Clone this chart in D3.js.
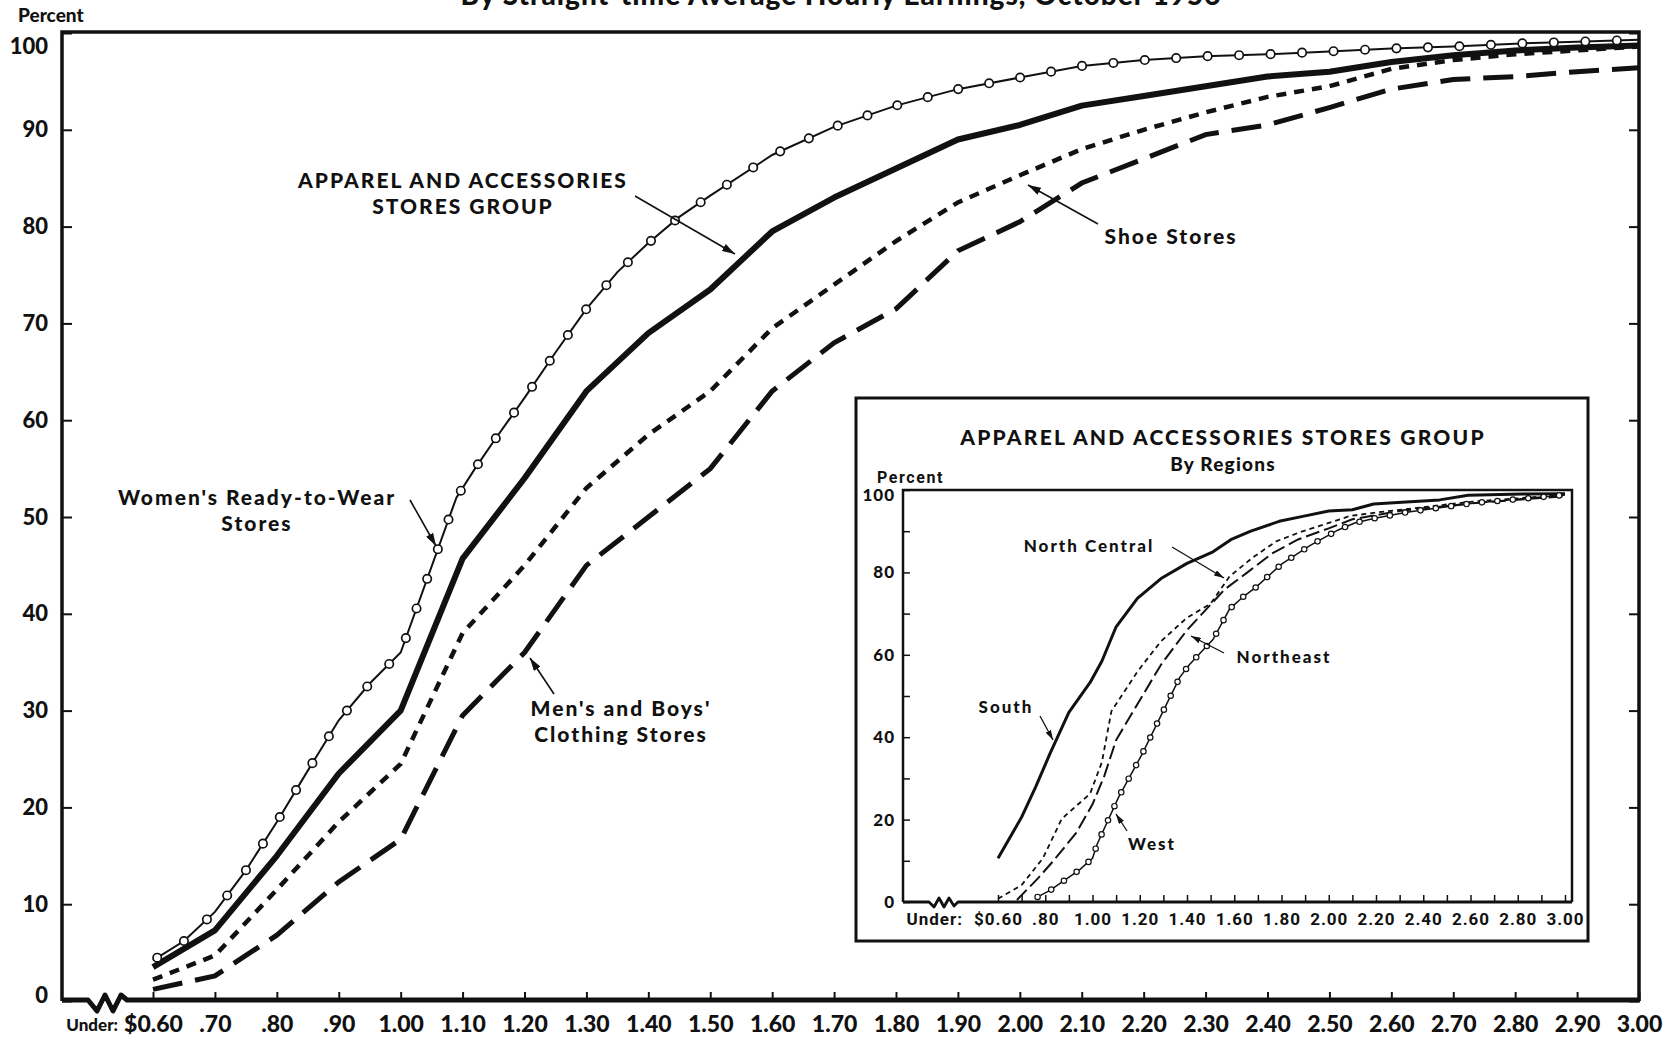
<!DOCTYPE html>
<html>
<head>
<meta charset="utf-8">
<script src="https://cdn.jsdelivr.net/npm/d3@7"></script>
<style>
  body { margin: 0; background: #fff; }
  svg text { font-family: Lato, "Open Sans", sans-serif; font-weight: 900; fill: #111; }
  svg .narrow text, svg text.narrow { font-family: "Liberation Sans Narrow", Roboto, sans-serif; font-weight: bold; }
</style>
</head>
<body>
<script>
// ---- main chart: cumulative percent of employees, by hourly earnings ----
const wages = [0.60, 0.70, 0.80, 0.90, 1.00, 1.10, 1.20, 1.30, 1.40, 1.50, 1.60, 1.70, 1.80,
  1.90, 2.00, 2.10, 2.20, 2.30, 2.40, 2.50, 2.60, 2.70, 2.80, 2.90, 3.00];
const groupPct = [3.5, 7.3, 15, 23.5, 30, 45.7, 54, 63, 69, 73.5, 79.5, 83, 86, 89, 90.5,
  92.5, 93.5, 94.5, 95.5, 96, 97, 97.7, 98.2, 98.5, 98.7];
const shoePct = [2.2, 4.7, 11.5, 18.5, 24.5, 38, 45, 53, 58.5, 63, 69.5, 74, 78.5, 82.5, 85.3,
  88, 90, 91.8, 93.4, 94.5, 96.3, 97.2, 97.8, 98.2, 98.6];
const mensPct = [1.2, 2.6, 6.8, 12.3, 16.7, 29.5, 36, 45, 50, 55, 63, 68, 71.5, 77.5, 80.5,
  84.5, 87, 89.5, 90.5, 92.3, 94.2, 95.2, 95.5, 96, 96.4];
const womenWages = [0.60, 0.65, 0.70, 0.75, 0.80, 0.85, 0.90, 0.95, 1.00, 1.09, 1.12, 1.15,
  1.20, 1.25, 1.30, 1.35, 1.40, 1.45, 1.50, 1.60, 1.70, 1.80, 1.90, 2.00, 2.10, 2.20, 2.30,
  2.40, 2.50, 2.60, 2.70, 2.80, 2.90, 3.00];
const womenPct = [4.2, 6.2, 9.2, 13.5, 18.5, 23.8, 29, 32.8, 36, 52, 55, 57.8, 62.3, 67, 71.5,
  75.3, 78.3, 81, 83.2, 87.4, 90.3, 92.5, 94.2, 95.4, 96.6, 97.2, 97.6, 97.8, 98.1, 98.4,
  98.6, 98.9, 99.1, 99.3];
const xTickLabels = ["$0.60", ".70", ".80", ".90", "1.00", "1.10", "1.20", "1.30", "1.40",
  "1.50", "1.60", "1.70", "1.80", "1.90", "2.00", "2.10", "2.20", "2.30", "2.40", "2.50",
  "2.60", "2.70", "2.80", "2.90", "3.00"];
const yTicks = [0, 10, 20, 30, 40, 50, 60, 70, 80, 90, 100];

// ---- inset: by regions ----
const southWages = [0.60, 0.70, 0.76, 0.82, 0.90, 0.99, 1.04, 1.10, 1.19, 1.29, 1.40, 1.51,
  1.59, 1.67, 1.79, 1.89, 2.00, 2.10, 2.19, 2.31, 2.47, 2.59, 2.82, 3.00];
const southPct = [10.6, 20.6, 28, 36, 46, 53.3, 58.5, 66.8, 73.7, 78.5, 82.2, 85, 88.1, 90,
  92.4, 93.6, 94.9, 95.2, 96.6, 97, 97.6, 98.7, 99, 99.1];
const ncWages = [0.60, 0.70, 0.79, 0.87, 0.99, 1.04, 1.08, 1.19, 1.29, 1.40, 1.50, 1.58, 1.68,
  1.78, 1.88, 2.00, 2.09, 2.21, 2.41, 2.61, 3.00];
const ncPct = [0.8, 4.1, 10.6, 20.2, 26.3, 34, 46.3, 55.9, 63.3, 69, 72.4, 79, 83.7, 87.6,
  89.8, 92, 93.7, 94.6, 95.9, 97.2, 98.8];
const neWages = [0.68, 0.77, 0.83, 0.93, 1.00, 1.05, 1.10, 1.19, 1.29, 1.40, 1.56, 1.66, 1.76,
  1.87, 2.00, 2.10, 2.31, 2.61, 3.00];
const nePct = [0.5, 5.8, 9.7, 16.7, 23.7, 30.6, 39.3, 48, 57.6, 66, 75.9, 80.2, 84.6, 88,
  90.7, 92.9, 95, 96.8, 98.5];
const westWages = [0.76, 0.82, 0.89, 0.945, 1.00, 1.02, 1.11, 1.21, 1.31, 1.37, 1.41, 1.46,
  1.51, 1.58, 1.64, 1.69, 1.80, 1.92, 2.04, 2.11, 2.19, 2.33, 2.61, 3.00];
const westPct = [1.0, 2.8, 5.6, 7.8, 10.6, 14.1, 25.4, 35.9, 47.6, 54.6, 57.6, 60.7, 63.7,
  71.1, 74.2, 76.3, 82, 86.5, 90.3, 92, 93.1, 94.6, 96.8, 98.8];
const insetTickWages = d3.range(6, 31).map(d => d / 10);
const insetLabelWages = [0.6, 0.8, 1.0, 1.2, 1.4, 1.6, 1.8, 2.0, 2.2, 2.4, 2.6, 2.8, 3.0];
const insetLabels = ["$0.60", ".80", "1.00", "1.20", "1.40", "1.60", "1.80", "2.00", "2.20",
  "2.40", "2.60", "2.80", "3.00"];
const insetYTicks = d3.range(0, 101, 10);
const insetYLabels = [0, 20, 40, 60, 80, 100];

const width = 1679;
const height = 1038;

const svg = d3.select("body").append("svg")
  .attr("width", width)
  .attr("height", height);

const defs = svg.append("defs");
function arrowMarker(id, w, h) {
  defs.append("marker")
    .attr("id", id)
    .attr("markerUnits", "userSpaceOnUse")
    .attr("viewBox", `0 0 ${w} ${h}`)
    .attr("markerWidth", w).attr("markerHeight", h)
    .attr("refX", w).attr("refY", h / 2)
    .attr("orient", "auto")
    .append("path")
    .attr("d", `M0,0L${w},${h / 2}L0,${h}Z`)
    .attr("fill", "#111");
}
arrowMarker("arrow", 13, 8);
arrowMarker("arrowSmall", 10, 6);

// markers spaced evenly along the drawn line
function dotsAlong(path, step, start, r, sw, g) {
  const node = path.node();
  const len = node.getTotalLength();
  const pts = d3.range(start, len, step).map(l => node.getPointAtLength(l));
  g.selectAll(null).data(pts).join("circle")
    .attr("cx", p => p.x).attr("cy", p => p.y).attr("r", r)
    .attr("fill", "#fff").attr("stroke", "#111").attr("stroke-width", sw);
}

// title (cut off at the top of the page, as in the scan)
svg.append("text")
  .attr("x", 841).attr("y", 5)
  .attr("text-anchor", "middle")
  .attr("font-size", 28)
  .attr("letter-spacing", 1)
  .text("By Straight-time Average Hourly Earnings, October 1956");

// ---- main chart ----
const x = d3.scaleLinear().domain([0.6, 3.0]).range([153, 1639]);
const y = d3.scaleLinear().domain([0, 100]).range([1001, 33]);

svg.append("text").attr("x", 18).attr("y", 22).attr("font-size", 19).text("Percent");

const xAxis = d3.axisBottom(x)
  .tickValues(wages)
  .tickSize(-9)
  .tickPadding(15)
  .tickFormat((d, i) => xTickLabels[i]);

svg.append("g")
  .attr("transform", `translate(0,${y(0)})`)
  .call(xAxis)
  .call(g => g.select(".domain").remove())
  .call(g => g.selectAll(".tick line").attr("stroke", "#111").attr("stroke-width", 2))
  .call(g => g.selectAll(".tick text")
    .attr("font-family", "Lato, sans-serif").attr("font-weight", 900)
    .attr("font-size", 23).attr("fill", "#111"));

svg.append("text")
  .attr("x", 118).attr("y", 1031)
  .attr("text-anchor", "end")
  .attr("font-size", 17)
  .text("Under:");

const yAxis = d3.axisLeft(y).tickValues(yTicks).tickSize(-10).tickPadding(14);
svg.append("g")
  .attr("transform", `translate(${x.range()[0] - 91},0)`)
  .call(yAxis)
  .call(g => g.select(".domain").remove())
  .call(g => g.selectAll(".tick line").attr("stroke", "#111").attr("stroke-width", 2))
  .call(g => g.selectAll(".tick text")
    .attr("font-family", "Lato, sans-serif").attr("font-weight", 900)
    .attr("font-size", 22).attr("fill", "#111")
    .attr("dy", d => d === 100 ? "0.95em" : d === 0 ? "0.05em" : "0.32em"));

svg.append("g")
  .attr("transform", `translate(${x(3.0)},0)`)
  .call(d3.axisRight(y).tickValues(yTicks).tickSize(-10).tickFormat(""))
  .call(g => g.select(".domain").remove())
  .call(g => g.selectAll(".tick line").attr("stroke", "#111").attr("stroke-width", 2));

// frame
const left = 62;
svg.append("path")
  .attr("d", `M${left},${y(0)}V${y(100) - 1}H${x(3.0)}V${y(0)}`)
  .attr("fill", "none").attr("stroke", "#111").attr("stroke-width", 3.5);
// bottom axis with break
svg.append("path")
  .attr("d", `M${left},${y(0) - 1}H88L97,${y(0) + 10}L105,${y(0) - 6}L113,${y(0) + 10}L121,${y(0) - 6}L127,${y(0) - 1}H${x(3.0) + 1}`)
  .attr("fill", "none").attr("stroke", "#111").attr("stroke-width", 5)
  .attr("stroke-linejoin", "round");

const line = d3.line().x(d => x(d[0])).y(d => y(d[1]));
const mainG = svg.append("g").attr("fill", "none").attr("stroke", "#111");

mainG.append("path")
  .attr("d", line(d3.zip(wages, mensPct)))
  .attr("stroke-width", 5).attr("stroke-dasharray", "30,13");
mainG.append("path")
  .attr("d", line(d3.zip(wages, shoePct)))
  .attr("stroke-width", 4.5).attr("stroke-dasharray", "10,8");
mainG.append("path")
  .attr("d", line(d3.zip(wages, groupPct)))
  .attr("stroke-width", 6).attr("stroke-linejoin", "round");
const womenPath = mainG.append("path")
  .attr("d", line(d3.zip(womenWages, womenPct)))
  .attr("stroke-width", 2);
dotsAlong(womenPath, 31.5, 5, 4.2, 1.7, svg.append("g"));

// main annotations
const mainNotes = [
  { lines: ["APPAREL AND ACCESSORIES", "STORES GROUP"], x: 463, y: 188, arrow: [635, 196, 735, 254] },
  { lines: ["Shoe Stores"], x: 1171, y: 244, arrow: [1098, 224, 1028, 185] },
  { lines: ["Women's Ready-to-Wear", "Stores"], x: 257, y: 505, arrow: [410, 500, 436, 546] },
  { lines: ["Men's and Boys'", "Clothing Stores"], x: 621, y: 716, arrow: [554, 694, 530, 658] }
];
mainNotes.forEach(n => {
  const t = svg.append("text")
    .attr("text-anchor", "middle").attr("font-size", 21).attr("letter-spacing", 2);
  n.lines.forEach((l, i) => t.append("tspan").attr("x", n.x).attr("y", n.y + i * 26).text(l));
  svg.append("line")
    .attr("x1", n.arrow[0]).attr("y1", n.arrow[1]).attr("x2", n.arrow[2]).attr("y2", n.arrow[3])
    .attr("stroke", "#111").attr("stroke-width", 1.6).attr("marker-end", "url(#arrow)");
});

// ---- inset ----
svg.append("rect")
  .attr("x", 856).attr("y", 398).attr("width", 732).attr("height", 543)
  .attr("fill", "#fff").attr("stroke", "#111").attr("stroke-width", 3);

svg.append("text")
  .attr("x", 1223).attr("y", 445).attr("text-anchor", "middle")
  .attr("font-size", 21).attr("letter-spacing", 2.2)
  .text("APPAREL AND ACCESSORIES STORES GROUP");
svg.append("text")
  .attr("x", 1223).attr("y", 471).attr("text-anchor", "middle")
  .attr("font-size", 19).attr("letter-spacing", 1.2)
  .text("By Regions");
svg.append("text")
  .attr("class", "narrow")
  .attr("x", 877).attr("y", 483).attr("font-size", 16).attr("letter-spacing", 1.6)
  .text("Percent");

const ix = d3.scaleLinear().domain([0.6, 3.0]).range([998, 1565]);
const iy = d3.scaleLinear().domain([0, 100]).range([902, 490]);
const iLeft = 903, iRight = 1572;

const insetG = svg.append("g");
insetG.append("g")
  .attr("transform", `translate(0,${iy(0)})`)
  .call(d3.axisBottom(ix).tickValues(insetTickWages).tickSize(-7).tickFormat(""))
  .call(g => g.select(".domain").remove())
  .call(g => g.selectAll(".tick line").attr("stroke", "#111").attr("stroke-width", 1.5));
insetG.append("g")
  .attr("class", "narrow")
  .attr("transform", `translate(0,${iy(0)})`)
  .call(d3.axisBottom(ix).tickValues(insetLabelWages).tickSize(0).tickPadding(11)
    .tickFormat((d, i) => insetLabels[i]))
  .call(g => g.select(".domain").remove())
  .call(g => g.selectAll(".tick text")
    .attr("font-family", "'Liberation Sans Narrow', Roboto, sans-serif")
    .attr("font-weight", "bold").attr("font-size", 17).attr("letter-spacing", 1)
    .attr("fill", "#111"));
svg.append("text")
  .attr("class", "narrow")
  .attr("x", 963).attr("y", 925).attr("text-anchor", "end")
  .attr("font-size", 17).attr("letter-spacing", 1)
  .text("Under:");

insetG.append("g")
  .attr("transform", `translate(${iLeft},0)`)
  .call(d3.axisLeft(iy).tickValues(insetYTicks).tickSize(-7).tickFormat(""))
  .call(g => g.select(".domain").remove())
  .call(g => g.selectAll(".tick line").attr("stroke", "#111").attr("stroke-width", 1.5));
insetG.append("g")
  .attr("transform", `translate(${iLeft},0)`)
  .call(d3.axisLeft(iy).tickValues(insetYLabels).tickSize(0).tickPadding(8))
  .call(g => g.select(".domain").remove())
  .call(g => g.selectAll(".tick text")
    .attr("font-family", "'Liberation Sans Narrow', Roboto, sans-serif")
    .attr("font-weight", "bold").attr("font-size", 17).attr("letter-spacing", 1)
    .attr("fill", "#111")
    .attr("dy", d => d === 100 ? "0.6em" : "0.32em"));

insetG.append("path")
  .attr("d", `M${iLeft},${iy(0)}V${iy(100)}H${iRight}V${iy(0)}`)
  .attr("fill", "none").attr("stroke", "#111").attr("stroke-width", 2.5);
insetG.append("path")
  .attr("d", `M${iLeft},${iy(0)}H929L934,${iy(0) + 5}L939,${iy(0) - 4}L944,${iy(0) + 5}L949,${iy(0) - 4}L954,${iy(0) + 4}L958,${iy(0)}H${iRight}`)
  .attr("fill", "none").attr("stroke", "#111").attr("stroke-width", 2.8)
  .attr("stroke-linejoin", "round");

const iline = d3.line().x(d => ix(d[0])).y(d => iy(d[1]));
const iLines = svg.append("g").attr("fill", "none").attr("stroke", "#111");
iLines.append("path")
  .attr("d", iline(d3.zip(neWages, nePct)))
  .attr("stroke-width", 2).attr("stroke-dasharray", "14,5");
iLines.append("path")
  .attr("d", iline(d3.zip(ncWages, ncPct)))
  .attr("stroke-width", 1.8).attr("stroke-dasharray", "5,4");
iLines.append("path")
  .attr("d", iline(d3.zip(southWages, southPct)))
  .attr("stroke-width", 3).attr("stroke-linejoin", "round");
const westPath = iLines.append("path")
  .attr("d", iline(d3.zip(westWages, westPct)))
  .attr("stroke-width", 1.5);
dotsAlong(westPath, 15.5, 2, 2.7, 1.2, svg.append("g"));

const insetNotes = [
  { text: "North Central", x: 1089, y: 552, arrow: [1172, 547, 1224, 578] },
  { text: "South", x: 1006, y: 713, arrow: [1040, 716, 1053, 740] },
  { text: "Northeast", x: 1284, y: 663, arrow: [1224, 653, 1191, 636] },
  { text: "West", x: 1152, y: 850, arrow: [1127, 831, 1116, 814] }
];
insetNotes.forEach(n => {
  svg.append("text")
    .attr("x", n.x).attr("y", n.y).attr("text-anchor", "middle")
    .attr("font-size", 17).attr("letter-spacing", 2)
    .text(n.text);
  svg.append("line")
    .attr("x1", n.arrow[0]).attr("y1", n.arrow[1]).attr("x2", n.arrow[2]).attr("y2", n.arrow[3])
    .attr("stroke", "#111").attr("stroke-width", 1.3).attr("marker-end", "url(#arrowSmall)");
});
</script>
</body>
</html>
